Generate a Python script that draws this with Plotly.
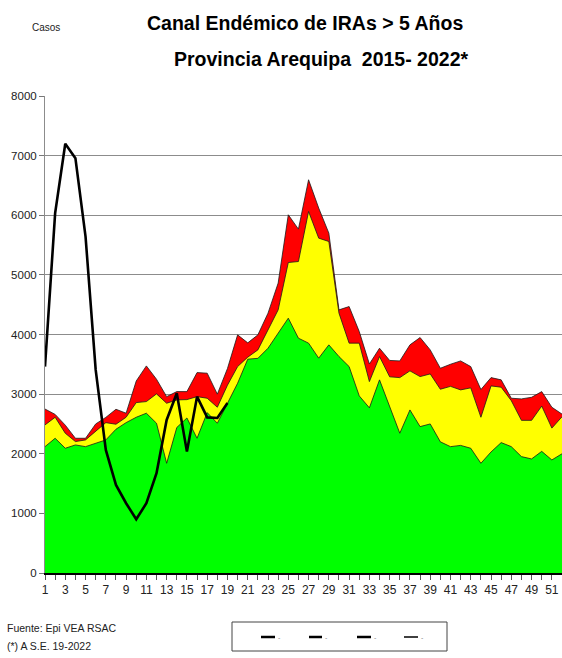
import plotly.graph_objects as go

weeks = list(range(1, 53))
tick_weeks = list(range(1, 52, 2))
tick_labels = [str(w) for w in tick_weeks]

zona_exito = [2119, 2260, 2092, 2148, 2119, 2176, 2232, 2411, 2522, 2612,
              2680, 2512, 1840, 2440, 2600, 2260, 2690, 2512, 2850, 3183,
              3586, 3600, 3770, 4022, 4274, 3938, 3855, 3603, 3826, 3630,
              3462, 2970, 2770, 3239, 2790, 2344, 2735, 2455, 2500, 2200,
              2119, 2140, 2092, 1840, 2030, 2187, 2119, 1952, 1913, 2040,
              1896, 2000]
zona_seguridad = [2483, 2612, 2344, 2204, 2232, 2371, 2522, 2495, 2612, 2858,
                  2875, 3004, 2847, 2903, 2908, 2958, 2931, 2780, 3150, 3462,
                  3620, 3742, 4077, 4413, 5207, 5224, 6063, 5616, 5560, 4358,
                  3855, 3855, 3210, 3630, 3290, 3277, 3390, 3294, 3339, 3082,
                  3130, 3071, 3105, 2612, 3138, 3116, 2890, 2560, 2560, 2800,
                  2430, 2620]
zona_alarma = [2750, 2660, 2480, 2260, 2260, 2500, 2610, 2746, 2680, 3220,
               3473, 3250, 2958, 3042, 3042, 3361, 3351, 3000, 3430, 3994,
               3860, 3994, 4358, 4862, 6008, 5767, 6595, 6120, 5700, 4413,
               4469, 4049, 3505, 3770, 3565, 3557, 3826, 3949, 3742, 3434,
               3501, 3557, 3462, 3077, 3277, 3239, 2931, 2920, 2947, 3042,
               2780, 2665]
weeks_2022 = list(range(1, 20))
casos_2022 = [3462, 6036, 7199, 6958, 5643, 3406, 2064, 1477, 1170, 901,
              1170, 1673, 2567, 3015, 2036, 2958, 2610, 2600, 2850]

FONT = "Liberation Sans, Arial, sans-serif"

fig = go.Figure()
fig.add_trace(go.Scatter(x=weeks, y=zona_alarma, mode="lines", fill="tozeroy",
                         fillcolor="#FF0000", line=dict(color="#1a1a1a", width=0.8),
                         showlegend=False, hoverinfo="skip"))
fig.add_trace(go.Scatter(x=weeks, y=zona_seguridad, mode="lines", fill="tozeroy",
                         fillcolor="#FFFF00", line=dict(color="#1a1a1a", width=0.8),
                         showlegend=False, hoverinfo="skip"))
fig.add_trace(go.Scatter(x=weeks, y=zona_exito, mode="lines", fill="tozeroy",
                         fillcolor="#00FF00", line=dict(color="#1a1a1a", width=0.8),
                         showlegend=False, hoverinfo="skip"))
fig.add_trace(go.Scatter(x=weeks_2022, y=casos_2022, mode="lines",
                         line=dict(color="#000000", width=2.6),
                         showlegend=False))

L, R, T, B = 45, 562, 96, 573
def px(x):
    return (x - L) / (R - L)
def py(y):
    return (B - y) / (B - T)

shapes = [dict(type="rect", xref="paper", yref="paper",
               x0=px(232), x1=px(447), y0=py(622), y1=py(651),
               line=dict(color="#444444", width=1), fillcolor="white")]
annotations = []
for (a, b), w in zip([(261, 275), (309, 322), (357, 371), (404, 418)], [2.5, 2.5, 2.5, 1.5]):
    shapes.append(dict(type="line", xref="paper", yref="paper",
                       x0=px(a), x1=px(b), y0=py(637), y1=py(637),
                       line=dict(color="black", width=w)))
    annotations.append(dict(text="-", xref="paper", yref="paper", x=px(b + 1), y=py(637),
                            xanchor="left", yanchor="middle", showarrow=False,
                            font=dict(size=7, color="#888888", family=FONT)))

annotations += [
    dict(text="<b>Canal Endémico de IRAs > 5 Años</b>", xref="paper", yref="paper",
         x=px(305), y=py(23), xanchor="center", yanchor="middle", showarrow=False,
         font=dict(size=19.5, color="black", family=FONT)),
    dict(text="<b>Provincia Arequipa  2015- 2022*</b>", xref="paper", yref="paper",
         x=px(321), y=py(59), xanchor="center", yanchor="middle", showarrow=False,
         font=dict(size=19.5, color="black", family=FONT)),
    dict(text="Casos", xref="paper", yref="paper", x=px(30), y=py(28),
         xanchor="left", yanchor="middle", showarrow=False,
         font=dict(size=10, color="#222222", family=FONT)),
    dict(text="Fuente: Epi VEA RSAC", xref="paper", yref="paper", x=px(5), y=py(628),
         xanchor="left", yanchor="middle", showarrow=False,
         font=dict(size=10.5, color="#222222", family=FONT)),
    dict(text="(*) A S.E. 19-2022", xref="paper", yref="paper", x=px(5), y=py(646),
         xanchor="left", yanchor="middle", showarrow=False,
         font=dict(size=10.5, color="#222222", family=FONT)),
]

fig.update_layout(
    width=562, height=658,
    margin=dict(l=L, r=562 - R, t=T, b=658 - B, pad=0),
    paper_bgcolor="white", plot_bgcolor="white",
    shapes=shapes, annotations=annotations,
    xaxis=dict(range=[1, 52], tickmode="array", tickvals=tick_weeks, ticktext=tick_labels,
               ticks="outside", ticklen=5, tickcolor="#555555", showgrid=False,
               showline=True, linecolor="black", linewidth=1.5, zeroline=False,
               minor=dict(dtick=1, tick0=1, ticks="outside", ticklen=5, tickcolor="#555555"),
               tickfont=dict(size=12, color="#222222", family=FONT)),
    yaxis=dict(range=[0, 8000], dtick=1000, ticks="outside", ticklen=5, tickcolor="#777777",
               showgrid=True, gridcolor="#8c8c8c", gridwidth=1,
               showline=True, linecolor="#8c8c8c", linewidth=1, zeroline=False,
               tickfont=dict(size=11.5, color="#222222", family=FONT)),
)

fig.write_html("out.html", config={"displayModeBar": False},
               post_script="document.body.style.margin='0';document.body.style.overflow='hidden';")
